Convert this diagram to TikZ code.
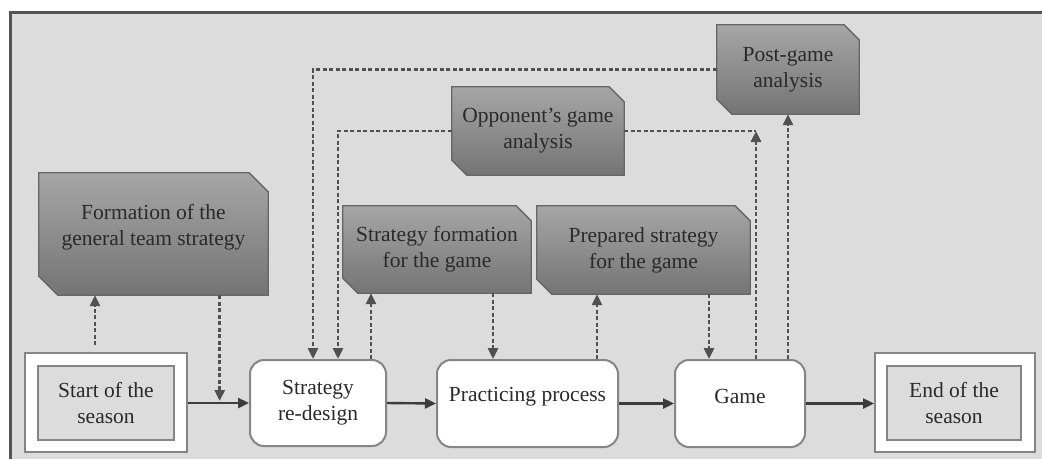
\documentclass[tikz,border=0pt]{standalone}
\usepackage{fontspec}
\setmainfont{Liberation Serif}
\usetikzlibrary{arrows.meta,calc}
\definecolor{bg}{HTML}{DCDCDC}
\definecolor{frame}{HTML}{555555}
\definecolor{txt}{HTML}{2A2A2A}
\definecolor{gtop}{HTML}{A6A6A6}
\definecolor{gbot}{HTML}{747474}
\definecolor{gline}{HTML}{666666}
\definecolor{wline}{HTML}{858585}
\definecolor{conn}{HTML}{3C3C3C}
\definecolor{dconn}{HTML}{505050}
\tikzset{
  lbl/.style={font=\fontsize{21.5}{26}\selectfont, text=txt, align=center},
  gbox/.style={lbl, inner sep=0pt},
  gshape/.style={draw=gline, line width=1.3pt, top color=gtop, bottom color=gbot},
  wbox/.style={lbl, draw=wline, fill=white, line width=2pt, rounded corners=14pt, inner sep=0pt},
  outerbox/.style={draw=wline, fill=white, line width=2pt, inner sep=0pt},
  innerbox/.style={lbl, draw=wline, fill=bg, line width=2pt, inner sep=0pt},
  solidarrow/.style={draw=conn, line width=2.4pt, -{Triangle[length=11pt,width=10pt]}},
  dotline/.style={draw=dconn, line width=2.8pt, dash pattern=on 4pt off 2.5pt},
  dotarrow/.style={dotline, -{Triangle[length=11pt,width=10pt]}},
}
\newcommand{\chamfer}[2]{%
  \path[gshape] (#1.north west) -- ([xshift=-#2]#1.north east) -- ([yshift=-#2]#1.north east)
    -- (#1.south east) -- ([xshift=#2]#1.south west) -- ([yshift=#2]#1.south west) -- cycle;}
\begin{document}
\begin{tikzpicture}[x=1pt,y=-1pt]
\useasboundingbox (0,0) rectangle (1042,459);
\fill[white] (0,0) rectangle (1042,459);
\fill[bg] (9,11) rectangle (1042,459);
\draw[frame, line width=3pt] (10.5,459) -- (10.5,12.5) -- (1042,12.5);

% gray boxes (invisible nodes carry the names, shapes drawn under text)
\node[gbox, minimum width=229pt, minimum height=122pt] (form) at (153.5,234) {};
\node[gbox, minimum width=188pt, minimum height=87pt] (sform) at (437,249.5) {};
\node[gbox, minimum width=213pt, minimum height=88pt] (prep) at (643.5,250) {};
\node[gbox, minimum width=172pt, minimum height=88pt] (opp) at (538,131) {};
\node[gbox, minimum width=142pt, minimum height=89pt] (post) at (788,69.5) {};
\chamfer{form}{19pt}
\chamfer{sform}{15pt}
\chamfer{prep}{15pt}
\chamfer{opp}{15pt}
\chamfer{post}{15pt}
\node[lbl] at ([yshift=7pt]form.center) {Formation of the\\general team strategy};
\node[lbl] at (sform.center) {Strategy formation\\for the game};
\node[lbl] at (prep.center) {Prepared strategy\\for the game};
\node[lbl] at (opp.center) {Opponent's game\\analysis};
\node[lbl] at (post.center) {Post-game\\analysis};

% main row
\node[outerbox, minimum width=162pt, minimum height=99pt] (startout) at (106,402.5) {};
\node[innerbox, minimum width=136pt, minimum height=74pt] (start) at (106,403) {Start of the\\season};
\node[wbox, minimum width=136pt, minimum height=86pt] (redesign) at (318,403) {Strategy\\re-design};
\node[wbox, minimum width=181pt, minimum height=87pt] (prac) at (527.5,403.5) {};
\node[lbl] at ([yshift=7pt]prac.center) {Practicing process};
\node[wbox, minimum width=130pt, minimum height=87pt] (game) at (740,403.5) {};
\node[lbl] at ([yshift=7pt]game.center) {Game};
\node[outerbox, minimum width=160pt, minimum height=99pt] (endout) at (955,402.5) {};
\node[innerbox, minimum width=134pt, minimum height=74pt] (end) at (954,403) {End of the\\season};

% solid connectors
\draw[solidarrow] (startout.east |- redesign.west) -- (redesign.west);
\draw[solidarrow] (redesign.east) -- (prac.west);
\draw[solidarrow] (prac.east) -- (game.west);
\draw[solidarrow] (game.east) -- (endout.west |- game.east);

% dotted connectors
\coordinate (j1) at ($(startout.east |- redesign.west)!0.52!(redesign.west)$);
\coordinate (s1) at ([xshift=-11pt,yshift=7pt]startout.north);
\draw[dotarrow] (s1) -- (s1 |- form.south);
\draw[dotarrow] (form.south -| j1) -- ([yshift=2pt]j1);
\draw[dotarrow] (post.west) -| ([xshift=-5pt]redesign.north);
\draw[dotarrow] (opp.west) -| ([xshift=20pt]redesign.north);
\coordinate (r1) at ([xshift=53pt]redesign.north);
\draw[dotarrow] (r1) -- (r1 |- sform.south);
\coordinate (f1) at ([xshift=56pt]sform.south);
\draw[dotarrow] (f1) -- (f1 |- prac.north);
\coordinate (p1) at ([xshift=69.5pt]prac.north);
\draw[dotarrow] (p1) -- (p1 |- prep.south);
\coordinate (q1) at ([xshift=65.5pt]prep.south);
\draw[dotarrow] (q1) -- (q1 |- game.north);
\coordinate (g1) at ([xshift=16pt]game.north);
\coordinate (g1c) at (g1 |- opp.east);
\draw[dotline] (opp.east) -- (g1c);
\draw[dotarrow] (g1) -- (g1c);
\coordinate (g2) at ([xshift=48pt]game.north);
\draw[dotarrow] (g2) -- (g2 |- post.south);
\end{tikzpicture}
\end{document}
